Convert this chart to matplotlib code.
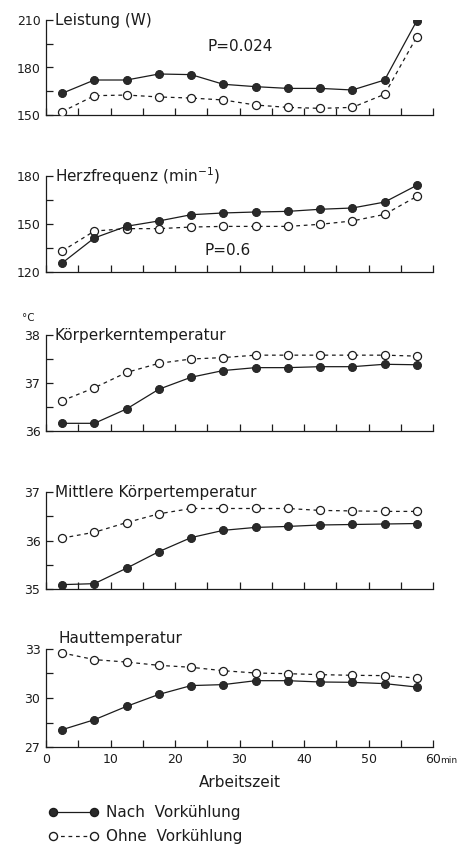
import matplotlib
matplotlib.use("Agg")
import matplotlib.pyplot as plt
import numpy as np
from matplotlib.lines import Line2D

plt.rcParams['font.family'] = ['DejaVu Sans']

# Arbeitszeit (min), Mitte der 5-min-Intervalle
zeit = [2.5, 7.5, 12.5, 17.5, 22.5, 27.5, 32.5, 37.5, 42.5, 47.5, 52.5, 57.5]

leistung_nach = [163.7, 172.1, 172.1, 175.9, 175.5, 169.4, 167.9, 166.8, 166.8, 165.8, 172.1, 209.6]
leistung_ohne = [152.1, 162.2, 162.6, 161.4, 160.7, 159.5, 156.3, 154.8, 154.2, 154.8, 163.1, 199.5]

herz_nach = [125.6, 141.3, 148.6, 151.9, 155.8, 156.9, 157.5, 157.9, 159.2, 160.0, 163.7, 174.2]
herz_ohne = [133.1, 145.6, 147.1, 147.1, 148.1, 148.5, 148.5, 148.5, 149.8, 151.9, 156.0, 167.3]

kern_nach = [36.16, 36.16, 36.46, 36.87, 37.12, 37.26, 37.32, 37.32, 37.34, 37.34, 37.39, 37.38]
kern_ohne = [36.63, 36.90, 37.22, 37.41, 37.50, 37.53, 37.58, 37.58, 37.58, 37.58, 37.58, 37.56]

mittel_nach = [35.09, 35.11, 35.43, 35.77, 36.06, 36.21, 36.27, 36.29, 36.32, 36.33, 36.34, 36.35]
mittel_ohne = [36.05, 36.17, 36.37, 36.55, 36.66, 36.66, 36.66, 36.66, 36.62, 36.61, 36.60, 36.60]

haut_nach = [28.06, 28.67, 29.49, 30.22, 30.76, 30.82, 31.06, 31.06, 30.98, 30.96, 30.88, 30.67]
haut_ohne = [32.76, 32.35, 32.20, 32.00, 31.88, 31.67, 31.53, 31.49, 31.43, 31.39, 31.37, 31.22]

titel = ["Leistung (W)", r"Herzfrequenz (min$^{-1}$)", "Körperkerntemperatur",
         "Mittlere Körpertemperatur", "Hauttemperatur"]
y_grenzen = [(150, 210), (120, 180), (36, 38), (35, 37), (27, 33)]
y_labels = [[150, 180, 210], [120, 150, 180], [36, 37, 38], [35, 36, 37], [27, 30, 33]]

reihen = [(leistung_nach, leistung_ohne), (herz_nach, herz_ohne), (kern_nach, kern_ohne),
          (mittel_nach, mittel_ohne), (haut_nach, haut_ohne)]

ink = "#1c1c1c"
W, H = 465, 847
fig = plt.figure(figsize=(W / 100, H / 100), dpi=100)

# Lage der Teilbilder in Pixel (oben, unten)
panels_px = [(20, 115), (176, 272), (335, 431), (492, 589), (649, 747)]
x0_px, x1_px = 46, 433
ms = 5.8
fs = 11

axes = []
for i, (top, bot) in enumerate(panels_px):
    ax = fig.add_axes([x0_px / W, 1 - bot / H, (x1_px - x0_px) / W, (bot - top) / H])
    axes.append(ax)
    nach, ohne = reihen[i]
    ax.plot(zeit, ohne, linestyle=(0, (3, 3)), color=ink, lw=0.9, marker='o',
            ms=ms, mfc='white', mec=ink, mew=0.9, zorder=3)
    ax.plot(zeit, nach, linestyle='-', color=ink, lw=0.9, marker='o',
            ms=ms, mfc='#2a2a2a', mec=ink, mew=0.6, zorder=4)
    lo, hi = y_grenzen[i]
    ax.set_ylim(lo, hi)
    ax.set_xlim(0, 60)
    ax.set_yticks(y_labels[i])
    ax.set_yticks([lo + (hi - lo) / 4, lo + 3 * (hi - lo) / 4], minor=True)
    ax.set_yticklabels([str(v) for v in y_labels[i]])
    ax.set_xticks(np.arange(0, 61, 5))
    if i == 4:
        ax.set_xticklabels([str(v) if v % 10 == 0 else "" for v in range(0, 61, 5)])
    else:
        ax.set_xticklabels([])
    for s in ("top", "right"):
        ax.spines[s].set_visible(False)
    for s in ("left", "bottom"):
        ax.spines[s].set_linewidth(0.9)
        ax.spines[s].set_color(ink)
    ax.tick_params(which='both', direction='in', length=5, width=0.9, color=ink,
                   labelsize=9, labelcolor=ink, pad=4)
    ax.set_facecolor('none')
    ty = 1.11 if i == 4 else 1.0
    tx = 0.033 if i == 4 else 0.022
    ax.text(tx, ty, titel[i], transform=ax.transAxes, ha='left', va='center',
            fontsize=fs, color=ink)

axes[0].text(25, 193, "P=0.024", ha='left', va='center', fontsize=fs, color=ink)
axes[1].text(24.5, 133.5, "P=0.6", ha='left', va='center', fontsize=fs, color=ink)
axes[2].text(-0.062, 1.18, "°C", transform=axes[2].transAxes, ha='left', va='center',
             fontsize=7.5, color=ink)

axb = axes[4]
axb.set_xlabel("Arbeitszeit", fontsize=fs, color=ink, labelpad=7)
axb.text(1.018, -0.09, "min", transform=axb.transAxes, ha='left', va='top',
         fontsize=6.5, color=ink)

h_nach = Line2D([], [], linestyle='-', color=ink, lw=0.9, marker='o', ms=ms,
                mfc='#2a2a2a', mec=ink)
h_ohne = Line2D([], [], linestyle=(0, (3, 3)), color=ink, lw=0.9, marker='o', ms=ms,
                mfc='white', mec=ink)
fig.legend([h_nach, h_ohne], ["Nach  Vorkühlung", "Ohne  Vorkühlung"],
           loc='upper left', bbox_to_anchor=(48 / W, 1 - 805 / H), frameon=False,
           numpoints=2, handlelength=3.3, handletextpad=0.5, labelspacing=0.6,
           fontsize=fs, borderaxespad=0, borderpad=0, labelcolor=ink)

fig.savefig("out.png", dpi=100, facecolor='white')
